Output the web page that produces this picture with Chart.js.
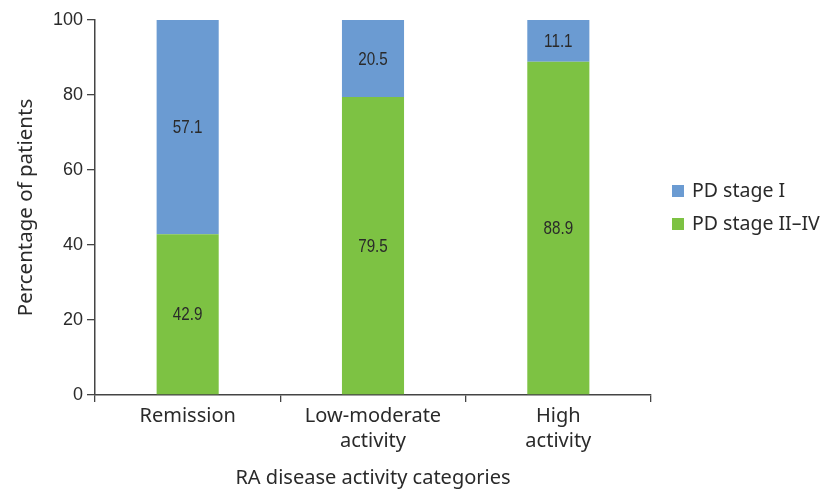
<!DOCTYPE html>
<html><head><meta charset="utf-8">
<script src="https://cdn.jsdelivr.net/npm/chart.js@4"></script>
<style>html,body{margin:0;padding:0;background:#fff}#wrap{width:824px;height:491px}</style>
</head><body><div id="wrap"><canvas id="c"></canvas></div>
<script>
const categories = [["Remission"], ["Low-moderate", "activity"], ["High", "activity"]];
const stageIIIV = [42.9, 79.5, 88.9];
const stageI = [57.1, 20.5, 11.1];
const seriesNames = ["PD stage I", "PD stage II\u2013IV"];
const yTicks = [0, 20, 40, 60, 80, 100];
const xTitle = "RA disease activity categories";
const yTitle = "Percentage of patients";

const BLUE = "#6B9BD2", GREEN = "#7DC243", INK = "#2a2a2a", AXIS = "#444";
const textFont = "'Noto Sans', sans-serif";
const numFont = "'Liberation Sans', Arial, sans-serif";

const labelPlugin = {
  id: 'labels',
  afterDatasetsDraw(chart) {
    const ctx = chart.ctx;
    chart.data.datasets.forEach((ds, i) => {
      const meta = chart.getDatasetMeta(i);
      meta.data.forEach((bar, j) => {
        const mid = (bar.y + bar.base) / 2;
        ctx.save();
        ctx.translate(bar.x, mid + 1);
        ctx.scale(0.8, 1);
        ctx.font = "19px " + numFont;
        ctx.fillStyle = INK;
        ctx.textAlign = "center";
        ctx.textBaseline = "middle";
        ctx.fillText(ds.data[j].toFixed(1), 0, 0);
        ctx.restore();
      });
    });
  }
};

const legendPlugin = {
  id: 'customLegend',
  afterDraw(chart) {
    const ctx = chart.ctx;
    ctx.save();
    const items = [[seriesNames[0], BLUE], [seriesNames[1], GREEN]];
    ctx.font = "19.5px " + textFont;
    ctx.textBaseline = "middle";
    items.forEach((it, k) => {
      const y = 191 + k * 33;
      ctx.fillStyle = it[1];
      ctx.fillRect(672, y - 6, 12, 12);
      ctx.fillStyle = INK;
      ctx.fillText(it[0], 692, y);
    });
    ctx.restore();
  }
};

new Chart(document.getElementById('c'), {
  type: 'bar',
  data: {
    labels: categories,
    datasets: [
      { label: seriesNames[1], data: stageIIIV, backgroundColor: GREEN, barPercentage: 0.335, categoryPercentage: 1 },
      { label: seriesNames[0], data: stageI, backgroundColor: BLUE, barPercentage: 0.335, categoryPercentage: 1 }
    ]
  },
  options: {
    responsive: true, maintainAspectRatio: false, animation: false,
    devicePixelRatio: 1,
    layout: { padding: { left: 10, right: 173, top: 20, bottom: 0 } },
    plugins: { legend: { display: false }, tooltip: { enabled: false } },
    scales: {
      x: {
        stacked: true, offset: true,
        grid: { offset: true, drawOnChartArea: false, drawTicks: true, tickLength: 7, color: AXIS, lineWidth: 1.3 },
        border: { color: AXIS, width: 1.5 },
        ticks: { color: INK, font: { family: textFont, size: 20, lineHeight: 1.28 }, padding: 1, maxRotation: 0 },
        title: { display: true, text: xTitle, color: INK, font: { family: textFont, size: 20 }, padding: { top: 14, bottom: 1 } },
        afterFit(s) { s.height = 491 - 395; }
      },
      y: {
        stacked: true, min: 0, max: 100,
        afterBuildTicks(s) { s.ticks = yTicks.map(v => ({ value: v })); },
        grid: { drawOnChartArea: false, drawTicks: true, tickLength: 8, color: AXIS, lineWidth: 1.3 },
        border: { color: AXIS, width: 1.5 },
        ticks: { color: INK, font: { family: numFont, size: 18 }, padding: 4 },
        title: { display: true, text: yTitle, color: INK, font: { family: textFont, size: 20.5 }, padding: { bottom: 10 } },
        afterFit(s) { s.width = 95 - 10; }
      }
    }
  },
  plugins: [labelPlugin, legendPlugin]
});
</script></body></html>
